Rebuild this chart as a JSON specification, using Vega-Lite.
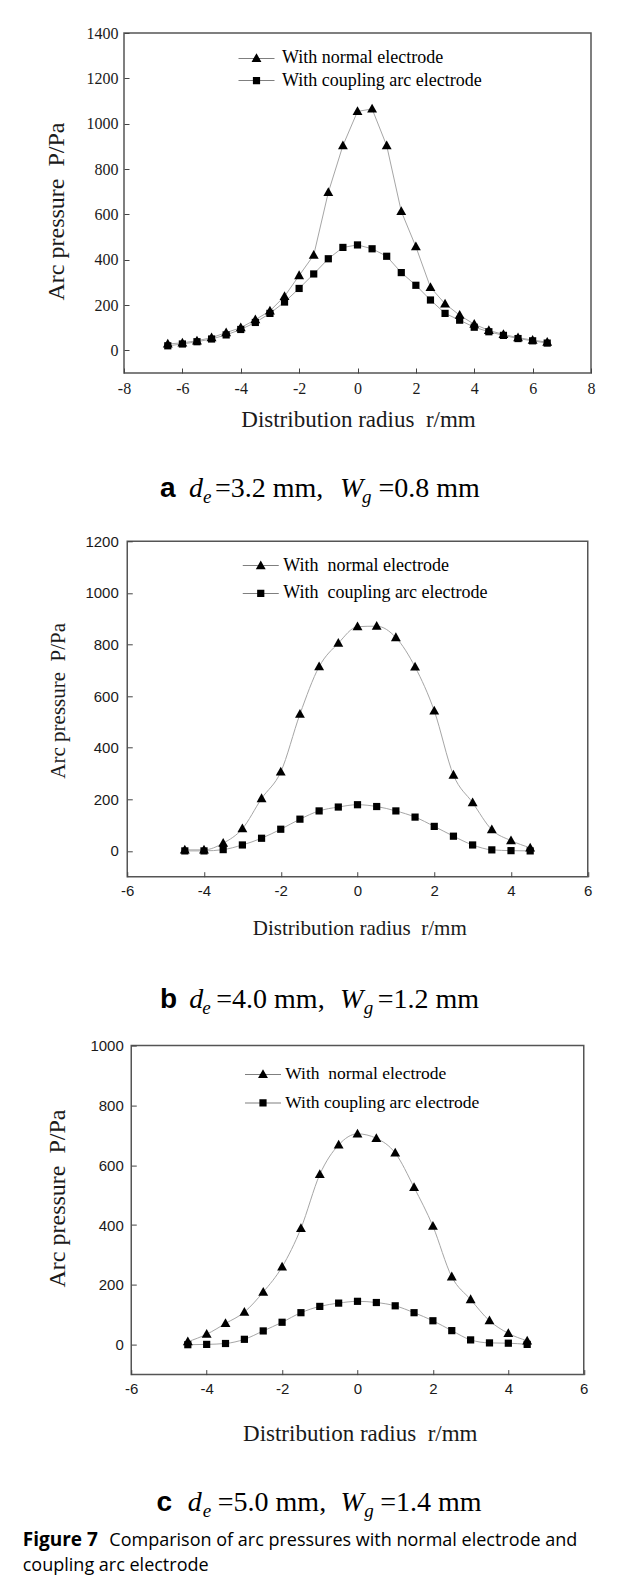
{
  "$schema": "https://vega.github.io/schema/vega-lite/v6.json",
  "background": "white",
  "padding": {"left": 22, "top": 24, "right": 5, "bottom": 5},
  "bounds": "flush",
  "center": true,
  "spacing": 168.3,
  "resolve": {"scale": {"shape": "independent"}, "legend": {"shape": "independent"}},
  "config": {
    "view": {"stroke": "#555555", "strokeWidth": 1.5},
    "axis": {"domain": false, "grid": false, "ticks": true, "tickSize": -5, "tickColor": "#444444", "tickWidth": 1, "labelColor": "#1a1a1a", "titleColor": "#1a1a1a", "titleFontWeight": "normal", "labelOverlap": false, "labelFlush": false}
  },
  "vconcat": [
    {
      "width": 467, "height": 340,
      "data": {"values": [
        {"r": -6.5, "p": 28, "series": "With normal electrode"}, {"r": -6, "p": 33, "series": "With normal electrode"}, {"r": -5.5, "p": 42, "series": "With normal electrode"}, {"r": -5, "p": 56, "series": "With normal electrode"}, {"r": -4.5, "p": 78, "series": "With normal electrode"}, {"r": -4, "p": 100, "series": "With normal electrode"}, {"r": -3.5, "p": 135, "series": "With normal electrode"}, {"r": -3, "p": 174, "series": "With normal electrode"}, {"r": -2.5, "p": 238, "series": "With normal electrode"}, {"r": -2, "p": 330, "series": "With normal electrode"}, {"r": -1.5, "p": 420, "series": "With normal electrode"}, {"r": -1, "p": 697, "series": "With normal electrode"}, {"r": -0.5, "p": 903, "series": "With normal electrode"}, {"r": 0, "p": 1054, "series": "With normal electrode"}, {"r": 0.5, "p": 1065, "series": "With normal electrode"}, {"r": 1, "p": 903, "series": "With normal electrode"}, {"r": 1.5, "p": 613, "series": "With normal electrode"}, {"r": 2, "p": 457, "series": "With normal electrode"}, {"r": 2.5, "p": 278, "series": "With normal electrode"}, {"r": 3, "p": 205, "series": "With normal electrode"}, {"r": 3.5, "p": 155, "series": "With normal electrode"}, {"r": 4, "p": 115, "series": "With normal electrode"}, {"r": 4.5, "p": 88, "series": "With normal electrode"}, {"r": 5, "p": 70, "series": "With normal electrode"}, {"r": 5.5, "p": 56, "series": "With normal electrode"}, {"r": 6, "p": 45, "series": "With normal electrode"}, {"r": 6.5, "p": 36, "series": "With normal electrode"},
        {"r": -6.5, "p": 20, "series": "With coupling arc electrode"}, {"r": -6, "p": 28, "series": "With coupling arc electrode"}, {"r": -5.5, "p": 38, "series": "With coupling arc electrode"}, {"r": -5, "p": 50, "series": "With coupling arc electrode"}, {"r": -4.5, "p": 68, "series": "With coupling arc electrode"}, {"r": -4, "p": 92, "series": "With coupling arc electrode"}, {"r": -3.5, "p": 123, "series": "With coupling arc electrode"}, {"r": -3, "p": 163, "series": "With coupling arc electrode"}, {"r": -2.5, "p": 213, "series": "With coupling arc electrode"}, {"r": -2, "p": 273, "series": "With coupling arc electrode"}, {"r": -1.5, "p": 337, "series": "With coupling arc electrode"}, {"r": -1, "p": 404, "series": "With coupling arc electrode"}, {"r": -0.5, "p": 454, "series": "With coupling arc electrode"}, {"r": 0, "p": 465, "series": "With coupling arc electrode"}, {"r": 0.5, "p": 448, "series": "With coupling arc electrode"}, {"r": 1, "p": 415, "series": "With coupling arc electrode"}, {"r": 1.5, "p": 343, "series": "With coupling arc electrode"}, {"r": 2, "p": 287, "series": "With coupling arc electrode"}, {"r": 2.5, "p": 222, "series": "With coupling arc electrode"}, {"r": 3, "p": 163, "series": "With coupling arc electrode"}, {"r": 3.5, "p": 133, "series": "With coupling arc electrode"}, {"r": 4, "p": 102, "series": "With coupling arc electrode"}, {"r": 4.5, "p": 82, "series": "With coupling arc electrode"}, {"r": 5, "p": 66, "series": "With coupling arc electrode"}, {"r": 5.5, "p": 52, "series": "With coupling arc electrode"}, {"r": 6, "p": 42, "series": "With coupling arc electrode"}, {"r": 6.5, "p": 32, "series": "With coupling arc electrode"}
      ]},
      "layer": [
        {"mark": {"type": "line", "color": "#a6a6a6", "strokeWidth": 1},
          "encoding": {
            "x": {"field": "r", "type": "quantitative", "scale": {"domain": [-8, 8], "nice": false, "zero": false},
              "axis": {"values": [-8, -6, -4, -2, 0, 2, 4, 6, 8], "labelExpr": "toString(datum.value)", "labelFont": "Liberation Serif", "labelFontSize": 16, "labelPadding": 12, "title": "Distribution radius\u00a0 r/mm", "titleFont": "Liberation Serif", "titleFontSize": 23, "titleX": 234, "titleY": 46, "titleBaseline": "middle"}},
            "y": {"field": "p", "type": "quantitative", "scale": {"domain": [-100, 1400], "nice": false, "zero": false},
              "axis": {"values": [0, 200, 400, 600, 800, 1000, 1200, 1400], "labelExpr": "toString(datum.value)", "labelFont": "Liberation Serif", "labelFontSize": 16, "labelPadding": 11, "title": "Arc pressure\u00a0 P/Pa", "titleFont": "Liberation Serif", "titleFontSize": 24, "titleX": -68, "titleY": 178, "titleBaseline": "middle"}},
            "detail": {"field": "series"}}},
        {"mark": {"type": "point", "filled": true, "color": "black", "size": 81, "opacity": 1},
          "encoding": {"x": {"field": "r", "type": "quantitative"}, "y": {"field": "p", "type": "quantitative"},
            "shape": {"condition": {"test": "datum.series === 'With normal electrode'", "value": "M0,-1.15L1.1,0.8L-1.1,0.8Z"}, "value": "M-0.8,-0.8H0.8V0.8H-0.8Z"}}},
        {"transform": [{"filter": "datum.r > 100"}],
          "mark": {"type": "point", "filled": true, "color": "black", "strokeWidth": 0, "size": 81},
          "encoding": {"x": {"field": "r", "type": "quantitative"}, "y": {"field": "p", "type": "quantitative"},
            "shape": {"field": "series", "type": "nominal", "scale": {"domain": ["With normal electrode", "With coupling arc electrode"], "range": ["M-4,-0.06H-0.6V0.06H-4ZM0.6,-0.06H4V0.06H0.6ZM0,-1.15L1.1,0.8L-1.1,0.8Z", "M-4,-0.06H-0.8V0.06H-4ZM0.8,-0.06H4V0.06H0.8ZM-0.8,-0.8H0.8V0.8H-0.8Z"]},
            "legend": {"orient": "none", "legendX": 123.5, "legendY": 16.3, "title": null, "padding": 0, "labelFont": "Liberation Serif", "labelFontSize": 18, "labelColor": "black", "labelLimit": 400, "labelOffset": 16.5, "rowPadding": 4.3, "symbolSize": 81, "symbolFillColor": "black", "symbolStrokeWidth": 0, "symbolOpacity": 1}}}},
        {"data": {"values": [{}]}, "mark": {"type": "text", "text": "a", "font": "Liberation Sans", "fontWeight": "bold", "fontSize": 28, "align": "left", "baseline": "alphabetic", "color": "black", "dx": -197.5, "dy": 124.3}, "encoding": {"x": {"datum": 0, "type": "quantitative"}, "y": {"datum": -100, "type": "quantitative"}}},
        {"data": {"values": [{}]}, "mark": {"type": "text", "text": "d", "font": "Liberation Serif", "fontStyle": "italic", "fontSize": 28, "align": "left", "baseline": "alphabetic", "color": "black", "dx": -168.5, "dy": 124.3}, "encoding": {"x": {"datum": 0, "type": "quantitative"}, "y": {"datum": -100, "type": "quantitative"}}},
        {"data": {"values": [{}]}, "mark": {"type": "text", "text": "e", "font": "Liberation Serif", "fontStyle": "italic", "fontSize": 19, "align": "left", "baseline": "alphabetic", "color": "black", "dx": -154.5, "dy": 130}, "encoding": {"x": {"datum": 0, "type": "quantitative"}, "y": {"datum": -100, "type": "quantitative"}}},
        {"data": {"values": [{}]}, "mark": {"type": "text", "text": "=3.2 mm,", "font": "Liberation Serif", "fontSize": 28, "align": "left", "baseline": "alphabetic", "color": "black", "dx": -142.5, "dy": 124.3}, "encoding": {"x": {"datum": 0, "type": "quantitative"}, "y": {"datum": -100, "type": "quantitative"}}},
        {"data": {"values": [{}]}, "mark": {"type": "text", "text": "W", "font": "Liberation Serif", "fontStyle": "italic", "fontSize": 28, "align": "left", "baseline": "alphabetic", "color": "black", "dx": -17.5, "dy": 124.3}, "encoding": {"x": {"datum": 0, "type": "quantitative"}, "y": {"datum": -100, "type": "quantitative"}}},
        {"data": {"values": [{}]}, "mark": {"type": "text", "text": "g", "font": "Liberation Serif", "fontStyle": "italic", "fontSize": 19, "align": "left", "baseline": "alphabetic", "color": "black", "dx": 4.5, "dy": 130}, "encoding": {"x": {"datum": 0, "type": "quantitative"}, "y": {"datum": -100, "type": "quantitative"}}},
        {"data": {"values": [{}]}, "mark": {"type": "text", "text": "=0.8 mm", "font": "Liberation Serif", "fontSize": 28, "align": "left", "baseline": "alphabetic", "color": "black", "dx": 21, "dy": 124.3}, "encoding": {"x": {"datum": 0, "type": "quantitative"}, "y": {"datum": -100, "type": "quantitative"}}}
      ]
    },
    {
      "width": 460.5, "height": 335.4,
      "data": {"values": [
        {"r": -4.5, "p": 4, "series": "With  normal electrode"}, {"r": -4, "p": 4, "series": "With  normal electrode"}, {"r": -3.5, "p": 30, "series": "With  normal electrode"}, {"r": -3, "p": 86, "series": "With  normal electrode"}, {"r": -2.5, "p": 203, "series": "With  normal electrode"}, {"r": -2, "p": 306, "series": "With  normal electrode"}, {"r": -1.5, "p": 530, "series": "With  normal electrode"}, {"r": -1, "p": 714, "series": "With  normal electrode"}, {"r": -0.5, "p": 805, "series": "With  normal electrode"}, {"r": 0, "p": 869, "series": "With  normal electrode"}, {"r": 0.5, "p": 871, "series": "With  normal electrode"}, {"r": 1, "p": 827, "series": "With  normal electrode"}, {"r": 1.5, "p": 713, "series": "With  normal electrode"}, {"r": 2, "p": 543, "series": "With  normal electrode"}, {"r": 2.5, "p": 294, "series": "With  normal electrode"}, {"r": 3, "p": 187, "series": "With  normal electrode"}, {"r": 3.5, "p": 82, "series": "With  normal electrode"}, {"r": 4, "p": 40, "series": "With  normal electrode"}, {"r": 4.5, "p": 12, "series": "With  normal electrode"},
        {"r": -4.5, "p": 0, "series": "With  coupling arc electrode"}, {"r": -4, "p": 0, "series": "With  coupling arc electrode"}, {"r": -3.5, "p": 5, "series": "With  coupling arc electrode"}, {"r": -3, "p": 23, "series": "With  coupling arc electrode"}, {"r": -2.5, "p": 49, "series": "With  coupling arc electrode"}, {"r": -2, "p": 84, "series": "With  coupling arc electrode"}, {"r": -1.5, "p": 123, "series": "With  coupling arc electrode"}, {"r": -1, "p": 155, "series": "With  coupling arc electrode"}, {"r": -0.5, "p": 170, "series": "With  coupling arc electrode"}, {"r": 0, "p": 179, "series": "With  coupling arc electrode"}, {"r": 0.5, "p": 172, "series": "With  coupling arc electrode"}, {"r": 1, "p": 155, "series": "With  coupling arc electrode"}, {"r": 1.5, "p": 131, "series": "With  coupling arc electrode"}, {"r": 2, "p": 95, "series": "With  coupling arc electrode"}, {"r": 2.5, "p": 57, "series": "With  coupling arc electrode"}, {"r": 3, "p": 23, "series": "With  coupling arc electrode"}, {"r": 3.5, "p": 4, "series": "With  coupling arc electrode"}, {"r": 4, "p": 1, "series": "With  coupling arc electrode"}, {"r": 4.5, "p": 0, "series": "With  coupling arc electrode"}
      ]},
      "layer": [
        {"mark": {"type": "line", "color": "#a6a6a6", "strokeWidth": 1, "interpolate": "monotone"},
          "encoding": {
            "x": {"field": "r", "type": "quantitative", "scale": {"domain": [-6, 6], "nice": false, "zero": false},
              "axis": {"values": [-6, -5, -4, -3, -2, -1, 0, 1, 2, 3, 4, 5, 6], "labelExpr": "datum.value % 2 === 0 ? toString(datum.value) : ''", "labelFont": "Liberation Sans", "labelFontSize": 15, "labelPadding": 12, "title": "Distribution radius\u00a0 r/mm", "titleFont": "Liberation Serif", "titleFontSize": 21, "titleX": 232, "titleY": 52, "titleBaseline": "middle"}},
            "y": {"field": "p", "type": "quantitative", "scale": {"domain": [-100, 1200], "nice": false, "zero": false},
              "axis": {"values": [0, 100, 200, 300, 400, 500, 600, 700, 800, 900, 1000, 1100, 1200], "labelExpr": "datum.value % 200 === 0 ? toString(datum.value) : ''", "labelFont": "Liberation Sans", "labelFontSize": 15, "labelPadding": 14, "title": "Arc pressure\u00a0 P/Pa", "titleFont": "Liberation Serif", "titleFontSize": 21, "titleX": -69, "titleY": 159, "titleBaseline": "middle"}},
            "detail": {"field": "series"}}},
        {"mark": {"type": "point", "filled": true, "color": "black", "size": 81, "opacity": 1},
          "encoding": {"x": {"field": "r", "type": "quantitative"}, "y": {"field": "p", "type": "quantitative"},
            "shape": {"condition": {"test": "datum.series === 'With  normal electrode'", "value": "M0,-1.15L1.1,0.8L-1.1,0.8Z"}, "value": "M-0.8,-0.8H0.8V0.8H-0.8Z"}}},
        {"transform": [{"filter": "datum.r > 100"}],
          "mark": {"type": "point", "filled": true, "color": "black", "strokeWidth": 0, "size": 81},
          "encoding": {"x": {"field": "r", "type": "quantitative"}, "y": {"field": "p", "type": "quantitative"},
            "shape": {"field": "series", "type": "nominal", "scale": {"domain": ["With  normal electrode", "With  coupling arc electrode"], "range": ["M-4,-0.06H-0.6V0.06H-4ZM0.6,-0.06H4V0.06H0.6ZM0,-1.15L1.1,0.8L-1.1,0.8Z", "M-4,-0.06H-0.8V0.06H-4ZM0.8,-0.06H4V0.06H0.8ZM-0.8,-0.8H0.8V0.8H-0.8Z"]},
            "legend": {"orient": "none", "legendX": 124.5, "legendY": 15.4, "title": null, "padding": 0, "labelExpr": "replace(datum.label, 'With  ', 'With\u00a0 ')", "labelFont": "Liberation Serif", "labelFontSize": 18, "labelColor": "black", "labelLimit": 400, "labelOffset": 13.5, "rowPadding": 9.6, "symbolSize": 81, "symbolFillColor": "black", "symbolStrokeWidth": 0, "symbolOpacity": 1}}}},
        {"data": {"values": [{}]}, "mark": {"type": "text", "text": "b", "font": "Liberation Sans", "fontWeight": "bold", "fontSize": 28, "align": "left", "baseline": "alphabetic", "color": "black", "dx": -197.6, "dy": 131.3}, "encoding": {"x": {"datum": 0, "type": "quantitative"}, "y": {"datum": -100, "type": "quantitative"}}},
        {"data": {"values": [{}]}, "mark": {"type": "text", "text": "d", "font": "Liberation Serif", "fontStyle": "italic", "fontSize": 28, "align": "left", "baseline": "alphabetic", "color": "black", "dx": -168.2, "dy": 131.3}, "encoding": {"x": {"datum": 0, "type": "quantitative"}, "y": {"datum": -100, "type": "quantitative"}}},
        {"data": {"values": [{}]}, "mark": {"type": "text", "text": "e", "font": "Liberation Serif", "fontStyle": "italic", "fontSize": 19, "align": "left", "baseline": "alphabetic", "color": "black", "dx": -155.2, "dy": 137}, "encoding": {"x": {"datum": 0, "type": "quantitative"}, "y": {"datum": -100, "type": "quantitative"}}},
        {"data": {"values": [{}]}, "mark": {"type": "text", "text": "=4.0 mm,", "font": "Liberation Serif", "fontSize": 28, "align": "left", "baseline": "alphabetic", "color": "black", "dx": -141.2, "dy": 131.3}, "encoding": {"x": {"datum": 0, "type": "quantitative"}, "y": {"datum": -100, "type": "quantitative"}}},
        {"data": {"values": [{}]}, "mark": {"type": "text", "text": "W", "font": "Liberation Serif", "fontStyle": "italic", "fontSize": 28, "align": "left", "baseline": "alphabetic", "color": "black", "dx": -17.6, "dy": 131.3}, "encoding": {"x": {"datum": 0, "type": "quantitative"}, "y": {"datum": -100, "type": "quantitative"}}},
        {"data": {"values": [{}]}, "mark": {"type": "text", "text": "g", "font": "Liberation Serif", "fontStyle": "italic", "fontSize": 19, "align": "left", "baseline": "alphabetic", "color": "black", "dx": 6.2, "dy": 137}, "encoding": {"x": {"datum": 0, "type": "quantitative"}, "y": {"datum": -100, "type": "quantitative"}}},
        {"data": {"values": [{}]}, "mark": {"type": "text", "text": "=1.2 mm", "font": "Liberation Serif", "fontSize": 28, "align": "left", "baseline": "alphabetic", "color": "black", "dx": 20.2, "dy": 131.3}, "encoding": {"x": {"datum": 0, "type": "quantitative"}, "y": {"datum": -100, "type": "quantitative"}}}
      ]
    },
    {
      "width": 452.5, "height": 329,
      "data": {"values": [
        {"r": -4.5, "p": 10, "series": "With  normal electrode"}, {"r": -4, "p": 35, "series": "With  normal electrode"}, {"r": -3.5, "p": 71, "series": "With  normal electrode"}, {"r": -3, "p": 109, "series": "With  normal electrode"}, {"r": -2.5, "p": 176, "series": "With  normal electrode"}, {"r": -2, "p": 260, "series": "With  normal electrode"}, {"r": -1.5, "p": 389, "series": "With  normal electrode"}, {"r": -1, "p": 569, "series": "With  normal electrode"}, {"r": -0.5, "p": 668, "series": "With  normal electrode"}, {"r": 0, "p": 705, "series": "With  normal electrode"}, {"r": 0.5, "p": 690, "series": "With  normal electrode"}, {"r": 1, "p": 641, "series": "With  normal electrode"}, {"r": 1.5, "p": 526, "series": "With  normal electrode"}, {"r": 2, "p": 396, "series": "With  normal electrode"}, {"r": 2.5, "p": 227, "series": "With  normal electrode"}, {"r": 3, "p": 151, "series": "With  normal electrode"}, {"r": 3.5, "p": 80, "series": "With  normal electrode"}, {"r": 4, "p": 38, "series": "With  normal electrode"}, {"r": 4.5, "p": 13, "series": "With  normal electrode"},
        {"r": -4.5, "p": 0, "series": "With coupling arc electrode"}, {"r": -4, "p": 1, "series": "With coupling arc electrode"}, {"r": -3.5, "p": 4, "series": "With coupling arc electrode"}, {"r": -3, "p": 18, "series": "With coupling arc electrode"}, {"r": -2.5, "p": 46, "series": "With coupling arc electrode"}, {"r": -2, "p": 75, "series": "With coupling arc electrode"}, {"r": -1.5, "p": 107, "series": "With coupling arc electrode"}, {"r": -1, "p": 128, "series": "With coupling arc electrode"}, {"r": -0.5, "p": 139, "series": "With coupling arc electrode"}, {"r": 0, "p": 145, "series": "With coupling arc electrode"}, {"r": 0.5, "p": 141, "series": "With coupling arc electrode"}, {"r": 1, "p": 130, "series": "With coupling arc electrode"}, {"r": 1.5, "p": 107, "series": "With coupling arc electrode"}, {"r": 2, "p": 80, "series": "With coupling arc electrode"}, {"r": 2.5, "p": 47, "series": "With coupling arc electrode"}, {"r": 3, "p": 16, "series": "With coupling arc electrode"}, {"r": 3.5, "p": 6, "series": "With coupling arc electrode"}, {"r": 4, "p": 5, "series": "With coupling arc electrode"}, {"r": 4.5, "p": 1, "series": "With coupling arc electrode"}
      ]},
      "layer": [
        {"mark": {"type": "line", "color": "#a6a6a6", "strokeWidth": 1, "interpolate": "monotone"},
          "encoding": {
            "x": {"field": "r", "type": "quantitative", "scale": {"domain": [-6, 6], "nice": false, "zero": false},
              "axis": {"values": [-6, -5, -4, -3, -2, -1, 0, 1, 2, 3, 4, 5, 6], "labelExpr": "datum.value % 2 === 0 ? toString(datum.value) : ''", "labelFont": "Liberation Sans", "labelFontSize": 15, "labelPadding": 12, "title": "Distribution radius\u00a0 r/mm", "titleFont": "Liberation Serif", "titleFontSize": 23, "titleX": 228.5, "titleY": 58.7, "titleBaseline": "middle"}},
            "y": {"field": "p", "type": "quantitative", "scale": {"domain": [-100, 1000], "nice": false, "zero": false},
              "axis": {"values": [0, 100, 200, 300, 400, 500, 600, 700, 800, 900, 1000], "labelExpr": "datum.value % 200 === 0 ? toString(datum.value) : ''", "labelFont": "Liberation Sans", "labelFontSize": 15, "labelPadding": 13, "title": "Arc pressure\u00a0 P/Pa", "titleFont": "Liberation Serif", "titleFontSize": 24, "titleX": -74, "titleY": 152.4, "titleBaseline": "middle"}},
            "detail": {"field": "series"}}},
        {"mark": {"type": "point", "filled": true, "color": "black", "size": 81, "opacity": 1},
          "encoding": {"x": {"field": "r", "type": "quantitative"}, "y": {"field": "p", "type": "quantitative"},
            "shape": {"condition": {"test": "datum.series === 'With  normal electrode'", "value": "M0,-1.15L1.1,0.8L-1.1,0.8Z"}, "value": "M-0.8,-0.8H0.8V0.8H-0.8Z"}}},
        {"transform": [{"filter": "datum.r > 100"}],
          "mark": {"type": "point", "filled": true, "color": "black", "strokeWidth": 0, "size": 81},
          "encoding": {"x": {"field": "r", "type": "quantitative"}, "y": {"field": "p", "type": "quantitative"},
            "shape": {"field": "series", "type": "nominal", "scale": {"domain": ["With  normal electrode", "With coupling arc electrode"], "range": ["M-4,-0.06H-0.6V0.06H-4ZM0.6,-0.06H4V0.06H0.6ZM0,-1.15L1.1,0.8L-1.1,0.8Z", "M-4,-0.06H-0.8V0.06H-4ZM0.8,-0.06H4V0.06H0.8ZM-0.8,-0.8H0.8V0.8H-0.8Z"]},
            "legend": {"orient": "none", "legendX": 123, "legendY": 20, "title": null, "padding": 0, "labelExpr": "replace(datum.label, 'With  ', 'With\u00a0 ')", "labelFont": "Liberation Serif", "labelFontSize": 17.5, "labelColor": "black", "labelLimit": 400, "labelOffset": 13.5, "rowPadding": 9.6, "symbolSize": 81, "symbolFillColor": "black", "symbolStrokeWidth": 0, "symbolOpacity": 1}}}},
        {"data": {"values": [{}]}, "mark": {"type": "text", "text": "c", "font": "Liberation Sans", "fontWeight": "bold", "fontSize": 28, "align": "left", "baseline": "alphabetic", "color": "black", "dx": -201.1, "dy": 136.7}, "encoding": {"x": {"datum": 0, "type": "quantitative"}, "y": {"datum": -100, "type": "quantitative"}}},
        {"data": {"values": [{}]}, "mark": {"type": "text", "text": "d", "font": "Liberation Serif", "fontStyle": "italic", "fontSize": 28, "align": "left", "baseline": "alphabetic", "color": "black", "dx": -169.7, "dy": 136.7}, "encoding": {"x": {"datum": 0, "type": "quantitative"}, "y": {"datum": -100, "type": "quantitative"}}},
        {"data": {"values": [{}]}, "mark": {"type": "text", "text": "e", "font": "Liberation Serif", "fontStyle": "italic", "fontSize": 19, "align": "left", "baseline": "alphabetic", "color": "black", "dx": -154.7, "dy": 142.5}, "encoding": {"x": {"datum": 0, "type": "quantitative"}, "y": {"datum": -100, "type": "quantitative"}}},
        {"data": {"values": [{}]}, "mark": {"type": "text", "text": "=5.0 mm,", "font": "Liberation Serif", "fontSize": 28, "align": "left", "baseline": "alphabetic", "color": "black", "dx": -139.7, "dy": 136.7}, "encoding": {"x": {"datum": 0, "type": "quantitative"}, "y": {"datum": -100, "type": "quantitative"}}},
        {"data": {"values": [{}]}, "mark": {"type": "text", "text": "W", "font": "Liberation Serif", "fontStyle": "italic", "fontSize": 28, "align": "left", "baseline": "alphabetic", "color": "black", "dx": -17.1, "dy": 136.7}, "encoding": {"x": {"datum": 0, "type": "quantitative"}, "y": {"datum": -100, "type": "quantitative"}}},
        {"data": {"values": [{}]}, "mark": {"type": "text", "text": "g", "font": "Liberation Serif", "fontStyle": "italic", "fontSize": 19, "align": "left", "baseline": "alphabetic", "color": "black", "dx": 6.7, "dy": 142.5}, "encoding": {"x": {"datum": 0, "type": "quantitative"}, "y": {"datum": -100, "type": "quantitative"}}},
        {"data": {"values": [{}]}, "mark": {"type": "text", "text": "=1.4 mm", "font": "Liberation Serif", "fontSize": 28, "align": "left", "baseline": "alphabetic", "color": "black", "dx": 22.7, "dy": 136.7}, "encoding": {"x": {"datum": 0, "type": "quantitative"}, "y": {"datum": -100, "type": "quantitative"}}},
        {"data": {"values": [{}]}, "mark": {"type": "text", "text": "Figure 7", "font": "Open Sans", "fontWeight": "bold", "fontSize": 19, "align": "left", "baseline": "alphabetic", "color": "black", "dx": -108.5, "dy": 171.7}, "encoding": {"x": {"datum": -6, "type": "quantitative"}, "y": {"datum": -100, "type": "quantitative"}}},
        {"data": {"values": [{}]}, "mark": {"type": "text", "text": "Comparison of arc pressures with normal electrode and", "font": "Open Sans", "fontSize": 18, "align": "left", "baseline": "alphabetic", "color": "black", "dx": -21.9, "dy": 171.7}, "encoding": {"x": {"datum": -6, "type": "quantitative"}, "y": {"datum": -100, "type": "quantitative"}}},
        {"data": {"values": [{}]}, "mark": {"type": "text", "text": "coupling arc electrode", "font": "Open Sans", "fontSize": 18, "align": "left", "baseline": "alphabetic", "color": "black", "dx": -108.5, "dy": 196.7}, "encoding": {"x": {"datum": -6, "type": "quantitative"}, "y": {"datum": -100, "type": "quantitative"}}}
      ]
    }
  ]
}
